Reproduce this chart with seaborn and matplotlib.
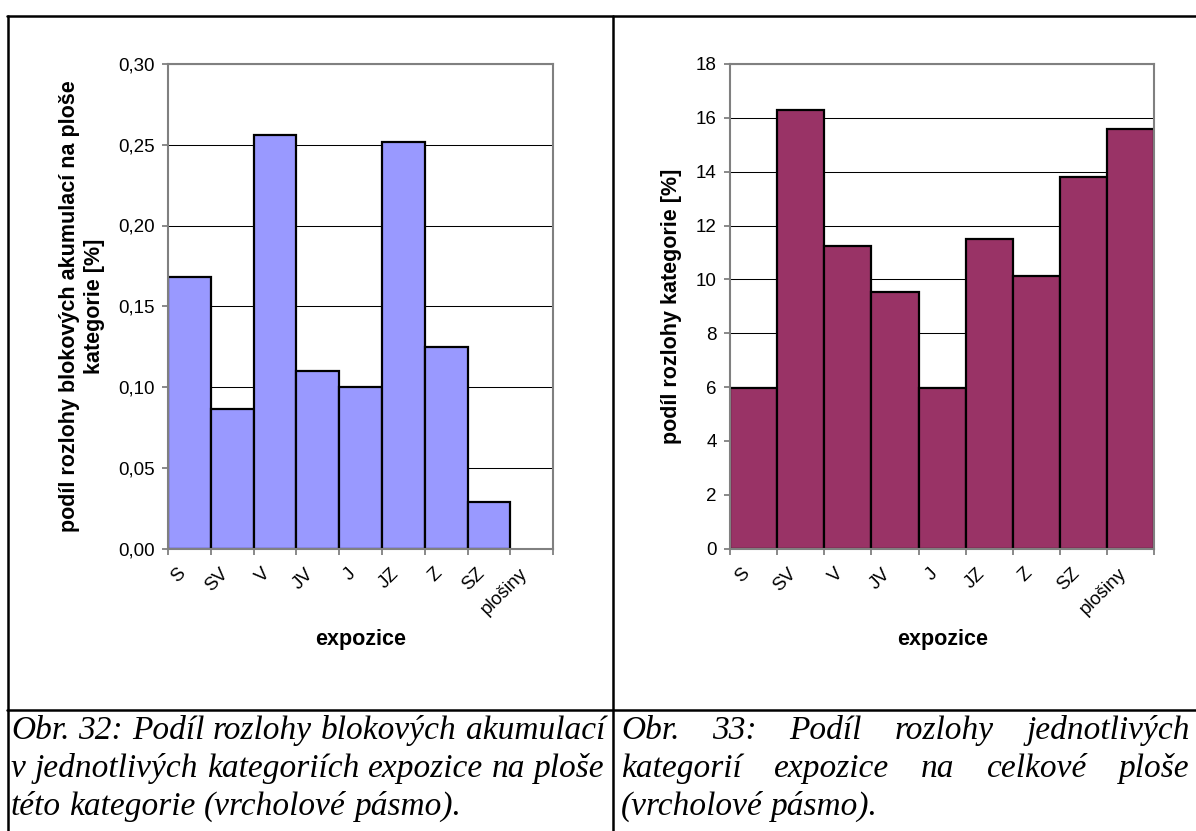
import numpy as np
import pandas as pd
import matplotlib
matplotlib.use("Agg")
import matplotlib.pyplot as plt
import seaborn as sns
from matplotlib.lines import Line2D
from matplotlib.ticker import FuncFormatter
from matplotlib.transforms import ScaledTranslation

# ---------------- data ----------------
categories = ["S", "SV", "V", "JV", "J", "JZ", "Z", "SZ", "plošiny"]
share_blocks = [0.168, 0.0866, 0.2558, 0.1101, 0.0998, 0.252, 0.1246, 0.0285, 0.0]
share_area = [5.95, 16.30, 11.22, 9.54, 5.98, 11.50, 10.11, 13.81, 15.58]
left_yticks = [0.0, 0.05, 0.10, 0.15, 0.20, 0.25, 0.30]
right_yticks = [0, 2, 4, 6, 8, 10, 12, 14, 16, 18]
left_ylabel = "podíl rozlohy blokových akumulací na ploše\nkategorie [%]"
right_ylabel = "podíl rozlohy kategorie [%]"
x_label = "expozice"
caption_left = ["Obr. 32: Podíl rozlohy blokových akumulací",
                "v jednotlivých kategoriích expozice na ploše",
                "této kategorie (vrcholové pásmo)."]
caption_right = ["Obr. 33: Podíl rozlohy jednotlivých",
                 "kategorií expozice na celkové ploše",
                 "(vrcholové pásmo)."]

# ---------------- style ----------------
sns.set_theme(style="white")
plt.rcParams["font.family"] = ["Liberation Sans", "DejaVu Sans"]
plt.rcParams["text.color"] = "black"

W, H = 1196, 831
fig = plt.figure(figsize=(W / 100, H / 100), dpi=100)
fig.patch.set_facecolor("white")


def fx(px):
    return px / W


def fy(py):
    return 1 - py / H


top_px, bot_px = 64.0, 548.5
ax1 = fig.add_axes([fx(168), fy(bot_px), (553.3 - 168) / W, (bot_px - top_px) / H])
ax2 = fig.add_axes([fx(730), fy(bot_px), (1154.3 - 730) / W, (bot_px - top_px) / H])

df1 = pd.DataFrame({"expozice": categories, "value": share_blocks})
df2 = pd.DataFrame({"expozice": categories, "value": share_area})

sns.barplot(data=df1, x="expozice", y="value", order=categories, ax=ax1,
            color="#9999FF", saturation=1, width=1.0,
            edgecolor="black", linewidth=1.6)
sns.barplot(data=df2, x="expozice", y="value", order=categories, ax=ax2,
            color="#993366", saturation=1, width=1.0,
            edgecolor="black", linewidth=1.6)

for p in ax1.patches:
    if p.get_height() == 0:
        p.set_visible(False)


def style_axis(ax, yticks, fmt, ylabel, ylab_x):
    n = len(categories)
    ax.set_facecolor("white")
    ax.set_xlim(-0.5, n - 0.5)
    ax.set_ylim(yticks[0], yticks[-1])
    ax.set_yticks(yticks)
    ax.yaxis.set_major_formatter(FuncFormatter(fmt))
    ax.yaxis.grid(True, color="black", linewidth=0.75)
    ax.xaxis.grid(False)
    ax.set_axisbelow(True)
    for s in ax.spines.values():
        s.set_visible(True)
        s.set_color("#808080")
        s.set_linewidth(1.5)
    ax.set_xticks(np.arange(n + 1) - 0.5)
    ax.set_xticklabels([])
    ax.set_xticks(np.arange(n), labels=categories, minor=True)
    ax.tick_params(axis="x", which="major", length=4.5, width=1.3,
                   color="#808080", direction="out", bottom=True, labelbottom=False)
    ax.tick_params(axis="x", which="minor", length=0, pad=16.2, bottom=True,
                   labelbottom=True, labelsize=13.5, labelcolor="black")
    ax.tick_params(axis="y", which="major", length=4.5, width=1.3,
                   color="#808080", direction="out", left=True, pad=5,
                   labelsize=13.5, labelcolor="black")
    off = ScaledTranslation(-7 / 100, 0, fig.dpi_scale_trans)
    for lab in ax.get_xticklabels(minor=True):
        lab.set_rotation(45)
        lab.set_horizontalalignment("right")
        lab.set_verticalalignment("center")
        lab.set_rotation_mode("anchor")
        lab.set_transform(lab.get_transform() + off)
    ax.set_xlabel(x_label, fontsize=15.5, fontweight="bold", color="black")
    ax.xaxis.set_label_coords(0.5, (bot_px - 640) / (bot_px - top_px))
    ax.xaxis.label.set_verticalalignment("center")
    ax.set_ylabel(ylabel, fontsize=15.5, fontweight="bold", color="black",
                  linespacing=1.2, multialignment="center")
    ax.yaxis.set_label_coords(ylab_x, (bot_px - 306) / (bot_px - top_px))
    ax.yaxis.label.set_verticalalignment("center")


style_axis(ax1, left_yticks, lambda v, p: f"{v:.2f}".replace(".", ","),
           left_ylabel, (82 - 168) / (553.3 - 168))
style_axis(ax2, right_yticks, lambda v, p: f"{int(round(v))}",
           right_ylabel, (672 - 730) / (1154.3 - 730))

# ---------------- table frame ----------------
lw_tab = 1.8
frame = [((7, 1196), (16, 16)), ((7.5, 7.5), (16, 831)), ((613, 613), (16, 831)),
         ((7, 1196), (710, 710))]
for xs, ys in frame:
    fig.add_artist(Line2D([fx(xs[0]), fx(xs[1])], [fy(ys[0]), fy(ys[1])],
                          transform=fig.transFigure, color="black", lw=lw_tab))

# ---------------- captions (justified) ----------------
renderer = fig.canvas.get_renderer()
cap_kw = dict(fontfamily=["Liberation Serif", "DejaVu Serif"], style="italic",
              fontsize=24, color="black", va="baseline", ha="left")


def text_width(s):
    t = fig.text(0, 0, s, **cap_kw)
    w = t.get_window_extent(renderer).width
    t.remove()
    return w


space_w = text_width("x x") - text_width("xx")


def place_line(line, x0, x1, ybase, justify):
    words = line.split()
    texts = [fig.text(0, 0, w, **cap_kw) for w in words]
    widths = [t.get_window_extent(renderer).width for t in texts]
    if justify and len(words) > 1:
        gap = (x1 - x0 - sum(widths)) / (len(words) - 1)
        gap = max(gap, space_w * 0.5)
    else:
        gap = space_w
    x = x0
    for t, w in zip(texts, widths):
        t.set_position((fx(x), fy(ybase)))
        x += w + gap


baselines = [739, 777, 815]
for i, line in enumerate(caption_left):
    place_line(line, 11, 605, baselines[i], i < len(caption_left) - 1)
for i, line in enumerate(caption_right):
    place_line(line, 621, 1190, baselines[i], i < len(caption_right) - 1)

fig.savefig("out.png", dpi=100, facecolor="white")
